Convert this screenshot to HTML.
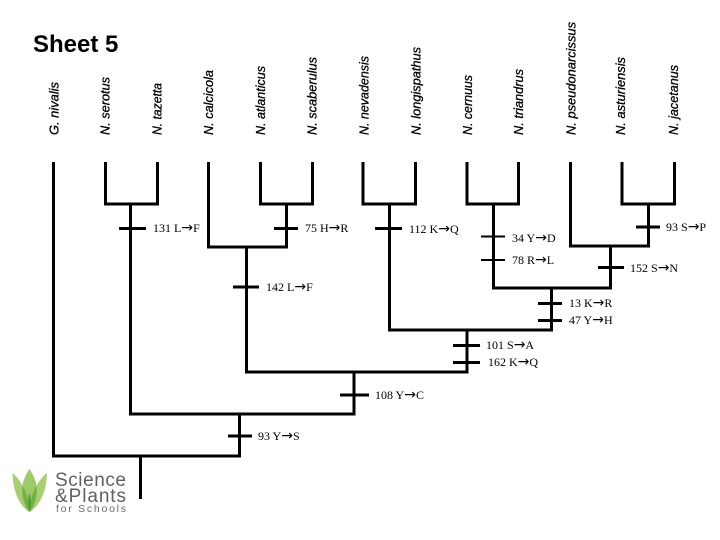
<!DOCTYPE html>
<html>
<head>
<meta charset="utf-8">
<style>
html,body{margin:0;padding:0;background:#fff;}
svg{display:block;}
.l{font:italic 13px "Liberation Sans",sans-serif;fill:#000;stroke:#000;stroke-width:.3px;}
.m{font:12px "Liberation Serif",serif;fill:#000;}
.m tspan{font:14px "DejaVu Sans",sans-serif;}
</style>
</head>
<body>
<svg width="720" height="540" viewBox="0 0 720 540" xmlns="http://www.w3.org/2000/svg">
<rect width="720" height="540" fill="#fff"/>
<text x="33" y="52" font-family="Liberation Sans" font-weight="bold" font-size="24" fill="#000">Sheet 5</text>

<g class="l">
<text transform="translate(58.500,135) rotate(-90)" textLength="53" lengthAdjust="spacingAndGlyphs">G. nivalis</text>
<text transform="translate(109.500,135) rotate(-90)" textLength="58" lengthAdjust="spacingAndGlyphs">N. serotus</text>
<text transform="translate(161.500,135) rotate(-90)" textLength="52" lengthAdjust="spacingAndGlyphs">N. tazetta</text>
<text transform="translate(213,135) rotate(-90)" textLength="65" lengthAdjust="spacingAndGlyphs">N. calcicola</text>
<text transform="translate(265,135) rotate(-90)" textLength="69" lengthAdjust="spacingAndGlyphs">N. atlanticus</text>
<text transform="translate(316.500,135) rotate(-90)" textLength="78" lengthAdjust="spacingAndGlyphs">N. scaberulus</text>
<text transform="translate(368.500,135) rotate(-90)" textLength="79" lengthAdjust="spacingAndGlyphs">N. nevadensis</text>
<text transform="translate(420.500,135) rotate(-90)" textLength="88" lengthAdjust="spacingAndGlyphs">N. longispathus</text>
<text transform="translate(472,135) rotate(-90)" textLength="60" lengthAdjust="spacingAndGlyphs">N. cernuus</text>
<text transform="translate(523,135) rotate(-90)" textLength="66" lengthAdjust="spacingAndGlyphs">N. triandrus</text>
<text transform="translate(575.500,135) rotate(-90)" textLength="113" lengthAdjust="spacingAndGlyphs">N. pseudonarcissus</text>
<text transform="translate(625,135) rotate(-90)" textLength="78" lengthAdjust="spacingAndGlyphs">N. asturiensis</text>
<text transform="translate(678,135) rotate(-90)" textLength="70" lengthAdjust="spacingAndGlyphs">N. jacetanus</text>
</g>

<g fill="none" stroke="#000" stroke-width="3" stroke-linejoin="miter" stroke-linecap="butt">
<path d="M53.500 162V456H239.500V414"/>
<path d="M105.500 162V204H157.500V162"/>
<path d="M130.500 204V414H354V372"/>
<path d="M208.500 162V247H286.500V204"/>
<path d="M260.500 162V204H312.500V162"/>
<path d="M246.500 247V372H467V330"/>
<path d="M363 162V204H415.500V162"/>
<path d="M389.500 204V330H551.500V288"/>
<path d="M467 162V204H518.500V162"/>
<path d="M493.500 204V288H610.500V246"/>
<path d="M570.500 162V246H648.500V204"/>
<path d="M622 162V204H674.500V162"/>
<path d="M140.500 456V499"/>
<path d="M119 228.500H146M274 228.500H298M375 228.500H402M636 227H660M598 267.500H624M233 287H259M538 303.500H562M538 320.500H562M453 345.500H480M453 362.500H480M340 395H369M228 436H252"/>
<path d="M481 236.500H505M481 260H505" stroke-width="2"/>
</g>

<g class="m">
<text x="153" y="232">131 L<tspan>→</tspan>F</text>
<text x="305" y="232">75 H<tspan>→</tspan>R</text>
<text x="409" y="233">112 K<tspan>→</tspan>Q</text>
<text x="512" y="242">34 Y<tspan>→</tspan>D</text>
<text x="512" y="264">78 R<tspan>→</tspan>L</text>
<text x="666" y="231">93 S<tspan>→</tspan>P</text>
<text x="630" y="272">152 S<tspan>→</tspan>N</text>
<text x="266" y="291">142 L<tspan>→</tspan>F</text>
<text x="569" y="307">13 K<tspan>→</tspan>R</text>
<text x="569" y="324">47 Y<tspan>→</tspan>H</text>
<text x="486" y="349">101 S<tspan>→</tspan>A</text>
<text x="488" y="366">162 K<tspan>→</tspan>Q</text>
<text x="375" y="399">108 Y<tspan>→</tspan>C</text>
<text x="258" y="440">93 Y<tspan>→</tspan>S</text>
</g>

<g>
<path d="M12.500 473C20 479 28 492 29.500 512C21 507 13 494 12.500 473Z" fill="#a6cf6f"/>
<path d="M47 473C39 479 31 492 29.500 512C38 507 46.500 494 47 473Z" fill="#a6cf6f"/>
<path d="M29.500 469C24 477 21 486 22 495C23 502 26 508 29.500 512C33 508 36 502 37 495C38 486 35 477 29.500 469Z" fill="#9ccb68"/>
<path d="M22.500 486C26 491 29 500 29.500 512C25 507 21.500 497 22.500 486Z" fill="#74b04a"/>
<path d="M36.500 486C33 491 30 500 29.500 512C34 507 37.500 497 36.500 486Z" fill="#74b04a"/>
<path d="M29.500 493C27.500 499 27.500 506 29.500 512C31.500 506 31.500 499 29.500 493Z" fill="#4f9e35"/>
</g>
<g font-family="Liberation Sans" fill="#5f6062">
<text x="55" y="486" font-size="19" textLength="71">Science</text>
<text x="55" y="502" font-size="19" textLength="71">&amp;Plants</text>
<text x="56" y="512" font-size="10.500" textLength="70" fill="#6a6b6d">for Schools</text>
</g>
</svg>
</body>
</html>
